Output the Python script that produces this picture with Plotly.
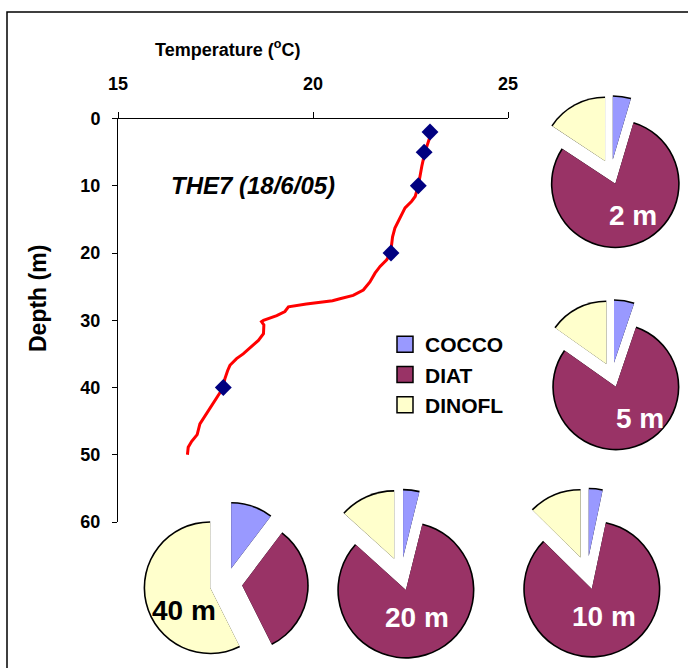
import plotly.graph_objects as go

W, H = 688, 668

# ---------------- data ----------------
profile_depth = [2.0, 5.0, 7.1, 10.0, 11.6, 12.3, 13.3, 14.3, 15.1, 16.3, 17.6, 20.0,
                 21.0, 22.0, 23.0, 24.3, 25.5, 26.3, 26.8, 27.1, 27.6, 28.0, 28.7, 29.3,
                 30.0, 30.2, 30.7, 32.0, 33.0, 33.7, 35.0, 35.7, 36.7, 37.5, 38.7, 40.0,
                 41.9, 43.7, 45.4, 47.0, 48.0, 48.9, 50.0]
profile_temp = [23.04, 22.87, 22.79, 22.70, 22.62, 22.53, 22.36, 22.27, 22.21, 22.10, 22.04, 21.99,
                21.89, 21.72, 21.59, 21.46, 21.29, 21.03, 20.69, 20.50, 19.83, 19.37, 19.28, 19.07,
                18.73, 18.68, 18.74, 18.73, 18.60, 18.47, 18.21, 18.04, 17.87, 17.81, 17.74, 17.70,
                17.49, 17.27, 17.10, 17.03, 16.89, 16.80, 16.78]

sample_depth = [2, 5, 10, 20, 40]
sample_temp = [23.0, 22.85, 22.7, 22.0, 17.7]

groups = ["COCCO", "DIAT", "DINOFL"]
group_colors = ["#9999FF", "#993366", "#FFFFCC"]

pie_names = ["2 m", "5 m", "10 m", "20 m", "40 m"]
pie_2m = [4.6, 79.7, 15.7]
pie_5m = [5.2, 79.6, 15.2]
pie_10m = [3.3, 84.1, 12.6]
pie_20m = [3.9, 82.8, 13.3]
pie_40m = [10.3, 32.3, 57.4]
pie_values = [pie_2m, pie_5m, pie_10m, pie_20m, pie_40m]

x_ticks = [15, 20, 25]
y_ticks = [0, 10, 20, 30, 40, 50, 60]

# ---------------- layout helpers (pixel placement) ----------------
pie_centers = {"2 m": (611, 172), "5 m": (612, 375), "10 m": (587, 573),
               "20 m": (401, 574), "40 m": (226, 584)}
pie_pull = {"2 m": 0.2, "5 m": 0.2, "10 m": 0.25, "20 m": 0.25, "40 m": 0.25}
pie_r = {"2 m": 67, "5 m": 67, "10 m": 67, "20 m": 67, "40 m": 65}
label_pos = {"2 m": (633, 215), "5 m": (640, 418), "10 m": (604, 616),
             "20 m": (417, 617), "40 m": (184, 610)}
OUT_W = 1.6

FONT = "Liberation Sans, Arial, sans-serif"

fig = go.Figure()

# temperature profile
fig.add_trace(go.Scatter(x=profile_temp, y=profile_depth, mode="lines",
                         line=dict(color="#FF0000", width=3), showlegend=False,
                         hoverinfo="skip"))
fig.add_trace(go.Scatter(x=sample_temp, y=sample_depth, mode="markers",
                         marker=dict(symbol="diamond", size=13, color="#000080"),
                         showlegend=False, hoverinfo="skip"))


def dom(cx, cy, half):
    return dict(x=[max(0.0, (cx - half) / W), min(1.0, (cx + half) / W)],
                y=[max(0.0, (H - cy - half) / H), min(1.0, (H - cy + half) / H)])


for name, vals in zip(pie_names, pie_values):
    cx, cy = pie_centers[name]
    p = pie_pull[name]
    half = min(pie_r[name] * (1 + p) + OUT_W, cx, W - cx, cy, H - cy)
    half_c = half - OUT_W
    r = half_c / (1 + p)
    r_b = r + OUT_W
    pull_b = p * r / r_b
    # black outline pie underneath (only its outer arcs remain visible)
    fig.add_trace(go.Pie(labels=groups, values=vals, sort=False, direction="clockwise",
                         rotation=0, pull=[pull_b] * 3, domain=dom(cx, cy, half),
                         marker=dict(colors=["#000000"] * 3, line=dict(width=0)),
                         textinfo="none", hoverinfo="skip", showlegend=False))
    fig.add_trace(go.Pie(labels=groups, values=vals, sort=False, direction="clockwise",
                         rotation=0, pull=[p] * 3, domain=dom(cx, cy, half_c),
                         marker=dict(colors=group_colors, line=dict(width=0)),
                         textinfo="none", hoverinfo="skip", showlegend=False))

# legend entries
for g, c in zip(groups, group_colors):
    fig.add_trace(go.Scatter(x=[None], y=[None], mode="markers", name=g,
                             marker=dict(symbol="square", size=16, color=c,
                                         line=dict(color="black", width=1.5)),
                             hoverinfo="skip"))

annotations = [
    dict(text="Temperature (<sup>o</sup>C)", x=228 / W, y=(H - 48) / H, xref="paper", yref="paper",
         xanchor="center", yanchor="middle", showarrow=False,
         font=dict(size=18, family=FONT, color="black", weight="bold")),
    dict(text="Depth (m)", x=38 / W, y=(H - 299) / H, xref="paper", yref="paper", textangle=-90,
         xanchor="center", yanchor="middle", showarrow=False,
         font=dict(size=23, family=FONT, color="black", weight="bold")),
    dict(text="<i>THE7 (18/6/05)</i>", x=18.45, y=10, xref="x", yref="y", showarrow=False,
         xanchor="center", yanchor="middle",
         font=dict(size=24, family=FONT, color="black", weight="bold")),
]
for name in pie_names:
    lx, ly = label_pos[name]
    annotations.append(dict(text=name, x=lx / W, y=(H - ly) / H, xref="paper", yref="paper",
                            xanchor="center", yanchor="middle", showarrow=False,
                            font=dict(size=28, family=FONT, weight="bold",
                                      color="black" if name == "40 m" else "white")))

fig.update_layout(
    template="none",
    width=W, height=H, margin=dict(l=0, r=0, t=0, b=0, pad=0, autoexpand=False),
    paper_bgcolor="white", plot_bgcolor="white",
    font=dict(family=FONT, color="black"),
    xaxis=dict(domain=[118 / W, 508 / W], range=[15, 25], side="top", tickvals=x_ticks,
               showgrid=False, zeroline=False, showline=True, linecolor="black", linewidth=1,
               ticks="outside", ticklen=6, tickcolor="black", ticklabelstandoff=14,
               automargin=False,
               tickfont=dict(size=18, family=FONT, weight="bold")),
    yaxis=dict(domain=[(H - 522) / H, (H - 118.5) / H], range=[60, 0], tickvals=y_ticks,
               showgrid=False, zeroline=False, showline=True, linecolor="black", linewidth=1,
               ticks="outside", ticklen=5, tickcolor="black", ticklabelstandoff=8,
               automargin=False,
               tickfont=dict(size=18, family=FONT, weight="bold")),
    legend=dict(x=385 / W, y=(H - 324) / H, xanchor="left", yanchor="top",
                bgcolor="rgba(0,0,0,0)", font=dict(size=21, family=FONT, weight="bold"),
                tracegroupgap=0, itemsizing="trace"),
    annotations=annotations,
    shapes=[dict(type="rect", xref="paper", yref="paper", x0=7 / W, x1=1.1,
                 y0=-0.1, y1=(H - 12) / H, line=dict(color="black", width=1.5),
                 fillcolor="rgba(0,0,0,0)", layer="below")],
)

fig.write_html("out.html", config={"displayModeBar": False},
               post_script="document.body.style.margin='0';document.body.style.overflow='hidden';")
